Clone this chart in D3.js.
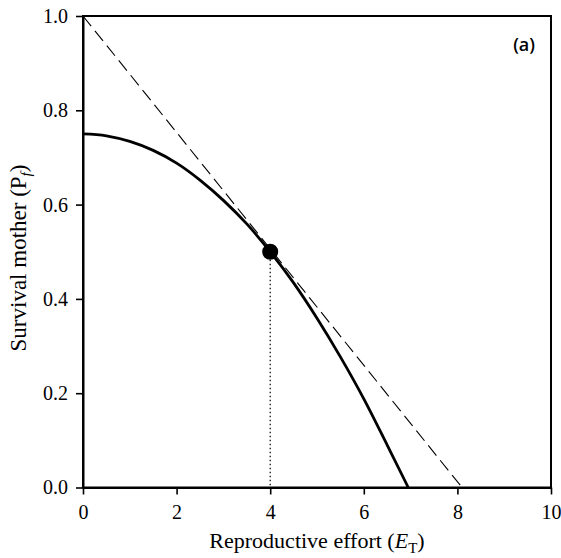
<!DOCTYPE html>
<html>
<head>
<meta charset="utf-8">
<script src="https://cdn.jsdelivr.net/npm/d3@7"></script>
<style>
  body { margin: 0; background: #fff; }
</style>
</head>
<body>
<div id="chart"></div>
<script>
'use strict';

// values
const effort = [0, 0.5, 1, 1.5, 2, 2.5, 3, 3.5, 4, 4.5, 5, 5.5, 6, 6.5, 6.95];
const survival = [0.75, 0.746, 0.734, 0.715, 0.688, 0.652, 0.609, 0.559, 0.5, 0.434, 0.359, 0.277, 0.188, 0.09, 0.0];
const tangentX = [0, 8.1];
const tangentY = [1.0, 0.0];
const optimum = { e: 4, p: 0.5 };
const xTicks = [0, 2, 4, 6, 8, 10];
const yTicks = [0.0, 0.2, 0.4, 0.6, 0.8, 1.0];

const serif = '"Liberation Serif", "Times New Roman", serif';
const svgWidth = 561, svgHeight = 558;
const margin = { top: 16, right: 10, bottom: 71, left: 83 };
const width = 551 - margin.left;
const height = 487.5 - margin.top;

const svg = d3.select('#chart')
  .append('svg')
    .attr('width', svgWidth)
    .attr('height', svgHeight);

const g = svg.append('g')
  .attr('transform', `translate(${margin.left}, ${margin.top})`);

const x = d3.scaleLinear().domain([0, 10]).range([0, width]);
const y = d3.scaleLinear().domain([0, 1]).range([height, 0]);

// frame
g.append('rect')
  .attr('width', width).attr('height', height)
  .attr('fill', 'none').attr('stroke', '#000').attr('stroke-width', 2);

const xAxis = g.append('g')
  .attr('transform', `translate(0, ${height})`)
  .call(d3.axisBottom(x).tickValues(xTicks).tickFormat(d3.format('d')).tickSize(7).tickSizeOuter(0));
const yAxis = g.append('g')
  .call(d3.axisLeft(y).tickValues(yTicks).tickFormat(d3.format('.1f')).tickSize(7).tickSizeOuter(0));

[xAxis, yAxis].forEach(a => {
  a.attr('font-family', serif).attr('font-size', 20);
  a.select('.domain').attr('stroke-width', 2);
  a.selectAll('.tick line').attr('stroke-width', 1.6);
  a.selectAll('.tick text')
    .style('font-family', serif)
    .style('font-size', '20px')
    .attr('fill', '#000');
});
xAxis.selectAll('.tick text').attr('y', 17).attr('dy', '0.71em');
yAxis.selectAll('.tick text').attr('x', -15);

// tangent line
const tangent = tangentX.map((d, i) => [d, tangentY[i]]);
g.append('path')
  .datum(tangent)
  .attr('d', d3.line().x(d => x(d[0])).y(d => y(d[1])))
  .attr('fill', 'none').attr('stroke', '#000')
  .attr('stroke-width', 1.1)
  .attr('stroke-dasharray', '13,6');

// survival curve
const curve = effort.map((d, i) => [d, survival[i]]);
g.append('path')
  .datum(curve)
  .attr('d', d3.line().x(d => x(d[0])).y(d => y(d[1])).curve(d3.curveMonotoneX))
  .attr('fill', 'none').attr('stroke', '#000')
  .attr('stroke-width', 2.8);

// dotted drop line
g.append('line')
  .attr('x1', x(optimum.e)).attr('x2', x(optimum.e))
  .attr('y1', y(optimum.p)).attr('y2', y(0))
  .attr('stroke', '#000').attr('stroke-width', 1.2)
  .attr('stroke-dasharray', '1.5,2.5');

g.append('circle')
  .attr('cx', x(optimum.e)).attr('cy', y(optimum.p))
  .attr('r', 8).attr('fill', '#000');

// panel label
g.append('text')
  .attr('x', width - 16).attr('y', 35)
  .attr('text-anchor', 'end')
  .style('font-family', '"Open Sans", sans-serif')
  .style('font-size', '18px')
  .style('font-weight', 600)
  .text('(a)');

// axis titles
const xTitle = svg.append('text')
  .attr('x', margin.left + width / 2).attr('y', 548)
  .attr('text-anchor', 'middle')
  .style('font-family', serif)
  .style('font-size', '22px');
xTitle.append('tspan').text('Reproductive effort (');
xTitle.append('tspan').style('font-style', 'italic').text('E');
xTitle.append('tspan').style('font-size', '15px').attr('dy', 5).text('T');
xTitle.append('tspan').attr('dy', -5).text(')');

const yTitle = svg.append('text')
  .attr('transform', `translate(26, 258) rotate(-90)`)
  .attr('text-anchor', 'middle')
  .style('font-family', serif)
  .style('font-size', '23px');
yTitle.append('tspan').text('Survival mother (P');
yTitle.append('tspan').style('font-style', 'italic').style('font-size', '15px').attr('dy', 5).text('f');
yTitle.append('tspan').attr('dy', -5).text(')');
</script>
</body>
</html>
